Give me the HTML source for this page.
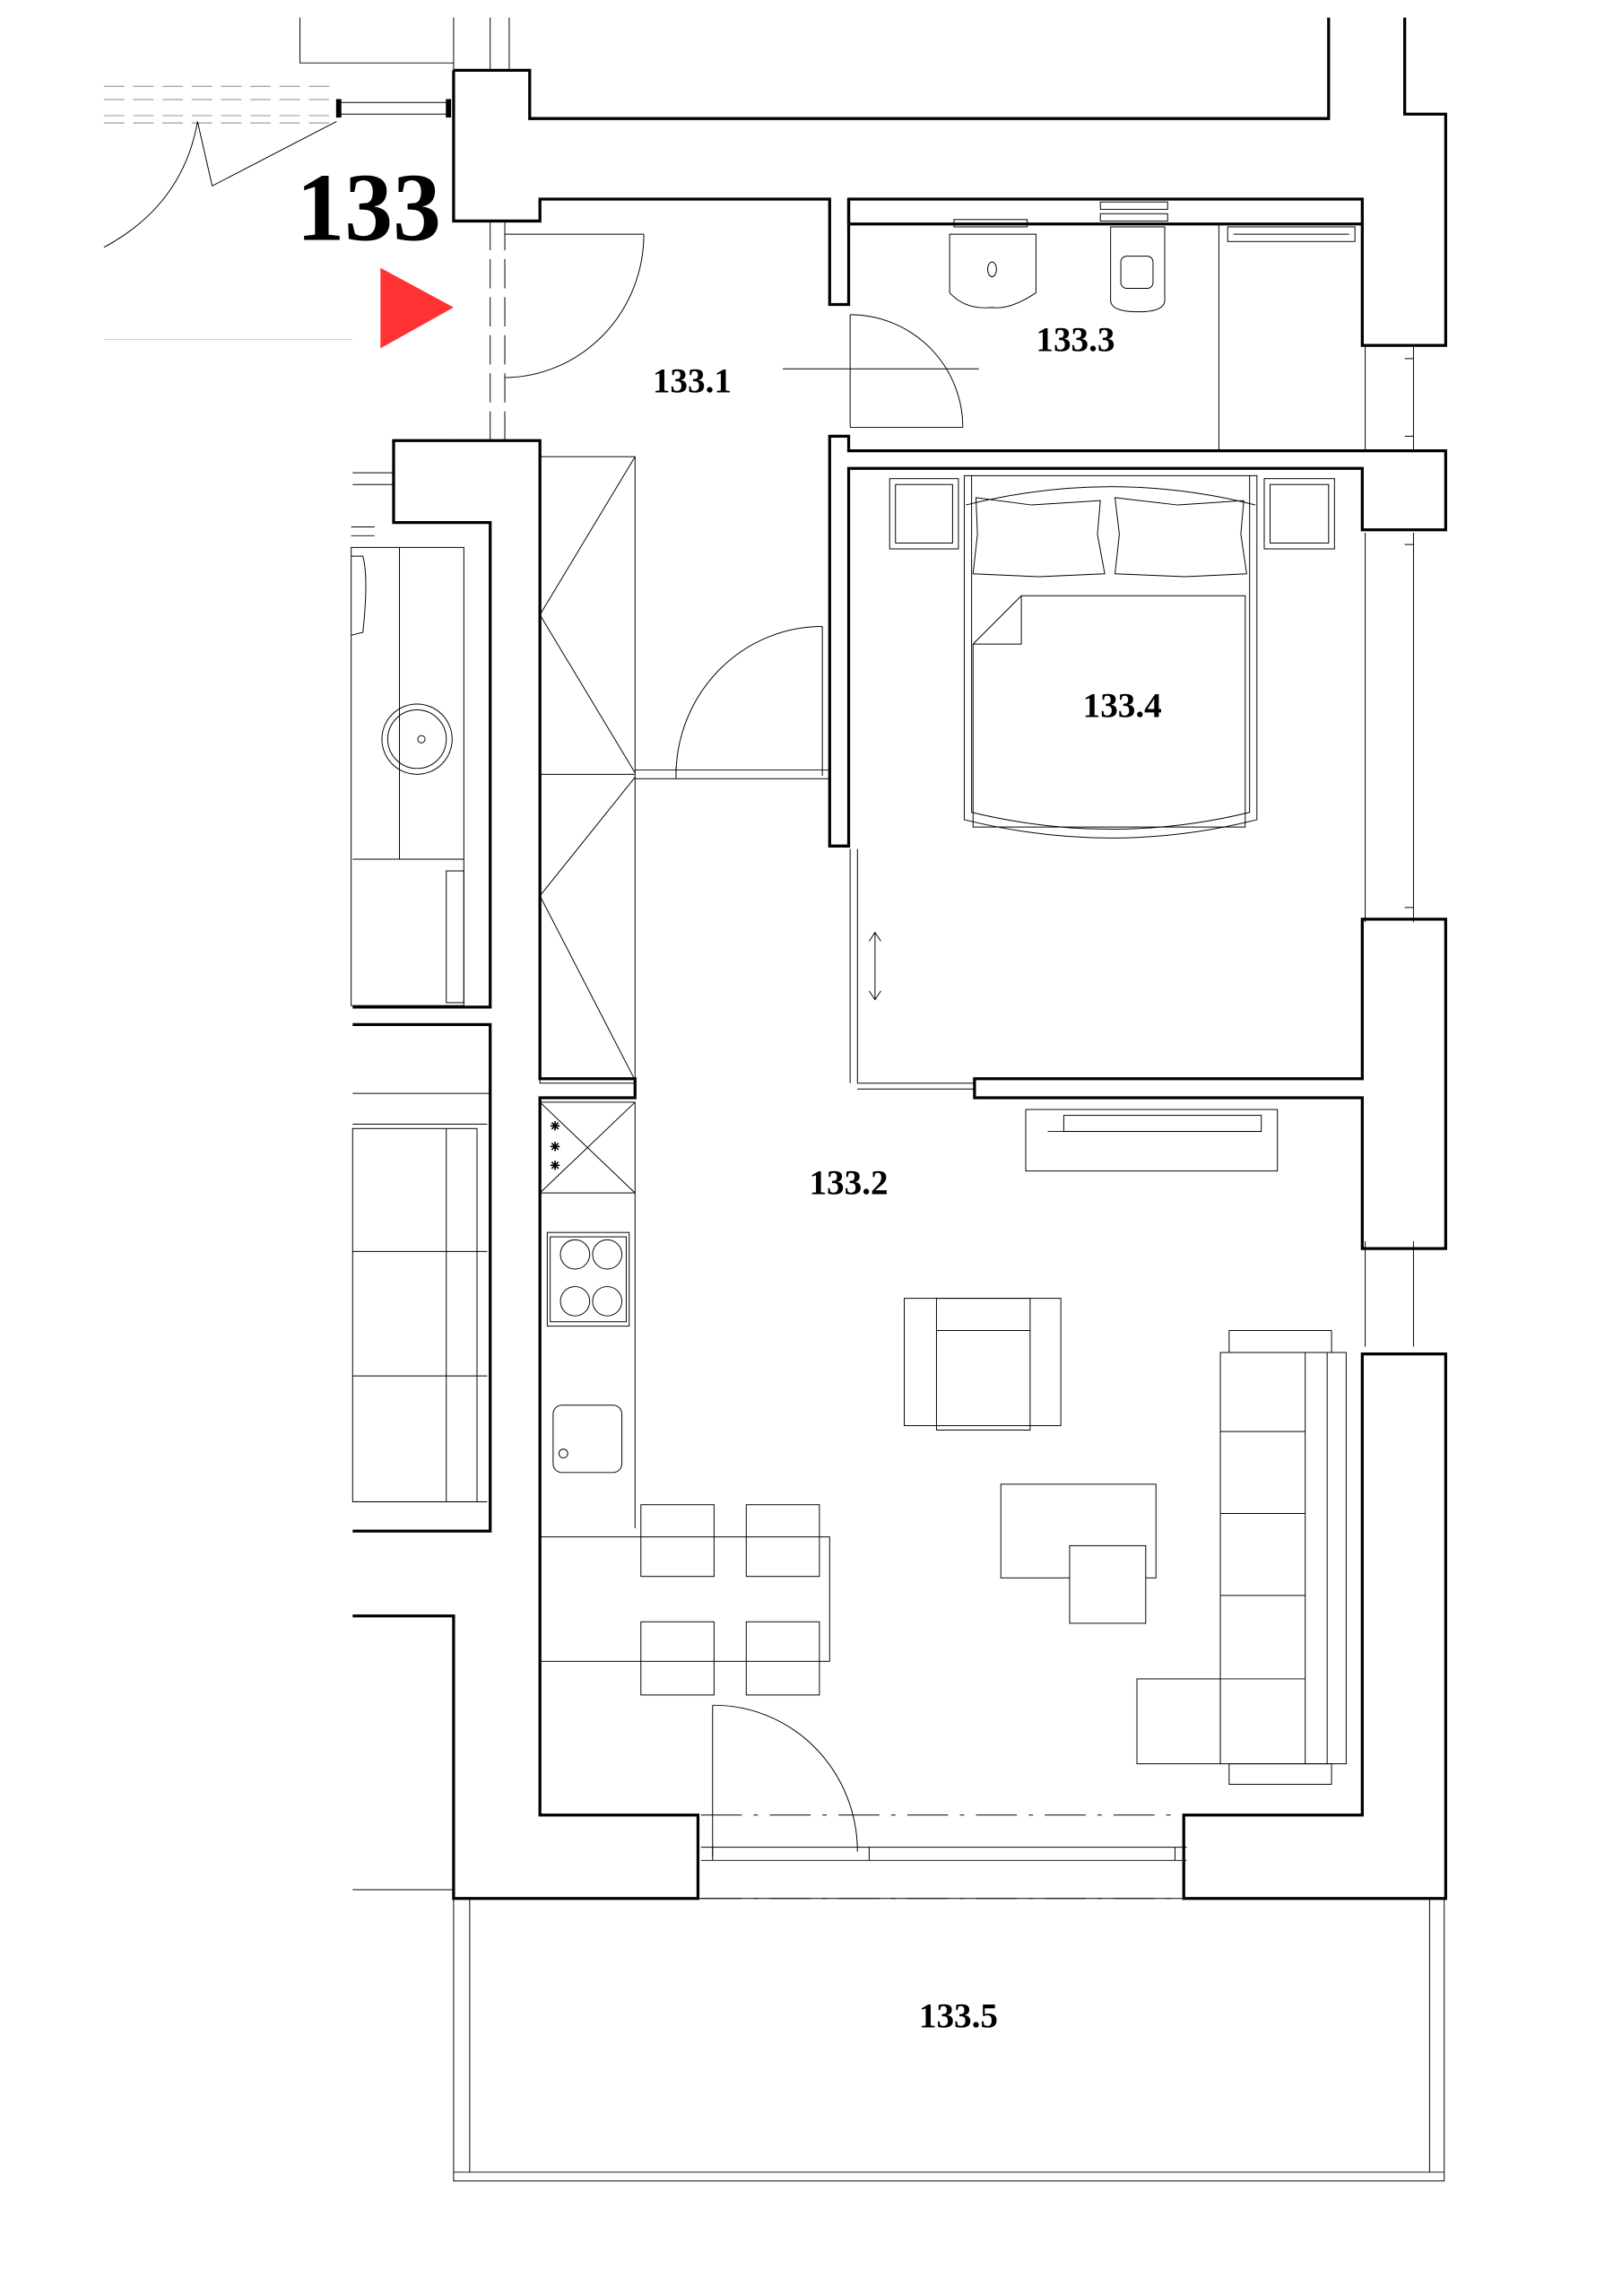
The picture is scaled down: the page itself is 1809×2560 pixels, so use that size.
<!DOCTYPE html>
<html><head><meta charset="utf-8"><style>
html,body{margin:0;padding:0;background:#fff;}
svg{display:block;}
text{font-family:"Liberation Serif",serif;font-weight:bold;fill:#000;}
</style></head><body>
<svg width="1809" height="2560" viewBox="0 0 1108.5 1568.6" preserveAspectRatio="none" xmlns="http://www.w3.org/2000/svg">
<rect width="1108.5" height="1568.6" fill="#fff"/>
<g fill="none" stroke="#000" stroke-width="0.6">
<line x1="71" y1="59" x2="231" y2="59" stroke-dasharray="14,6" stroke="#888"/>
<line x1="71" y1="68" x2="231" y2="68" stroke-dasharray="14,6" stroke="#888"/>
<line x1="71" y1="79" x2="231" y2="79" stroke-dasharray="14,6" stroke="#888"/>
<line x1="71" y1="84" x2="231" y2="84" stroke-dasharray="14,6" stroke="#888"/>
<line x1="233" y1="70" x2="307" y2="70"/><line x1="233" y1="78" x2="307" y2="78"/>
<rect x="230" y="68" width="3" height="12" fill="#000"/><rect x="305" y="68" width="3" height="12" fill="#000"/>
<path d="M205,12 L205,43 L310,43"/>
<path d="M135,83 Q125,140 71,169"/>
<path d="M135,83 L145,127 L230,83"/>
<line x1="310" y1="12" x2="310" y2="48"/><line x1="335" y1="12" x2="335" y2="48"/><line x1="348" y1="12" x2="348" y2="48"/>
<line x1="71" y1="232" x2="241" y2="232" stroke="#ccc"/>
<line x1="335" y1="151" x2="335" y2="300" stroke-dasharray="20,6"/>
<line x1="345" y1="151" x2="345" y2="300" stroke-dasharray="20,6"/>
<line x1="345" y1="160" x2="440" y2="160"/>
<path d="M440,160 A96,98 0 0 1 345,258"/>
<rect x="369" y="312" width="65" height="428"/>
<line x1="369" y1="529" x2="434" y2="529"/>
<path d="M434,312 L369,420 L434,528 M434,531 L369,612 L434,738"/>
<line x1="434" y1="526" x2="567" y2="526"/><line x1="434" y1="532" x2="567" y2="532"/>
<line x1="562" y1="428" x2="562" y2="530"/>
<path d="M562,428 A100,102 0 0 0 462,530"/>
<line x1="462" y1="524" x2="462" y2="532"/>
<line x1="581" y1="215" x2="581" y2="292"/>
<line x1="581" y1="292" x2="658" y2="292"/>
<path d="M581,215 A77,77 0 0 1 658,292"/>
<line x1="535" y1="252" x2="669" y2="252"/>
<line x1="833" y1="153" x2="833" y2="308"/>
<rect x="839" y="155" width="87" height="10"/><line x1="843" y1="160" x2="922" y2="160"/>
<rect x="652" y="150" width="50" height="5"/>
<path d="M649,160 L708,160 L708,200 Q690,212 678,210 Q660,212 649,200 Z"/>
<ellipse cx="678" cy="184" rx="3" ry="5"/>
<rect x="752" y="138" width="46" height="5"/><rect x="752" y="146" width="46" height="5"/>
<path d="M759,155 L796,155 L796,205 Q796,213 778,213 Q759,213 759,205 Z"/>
<rect x="766" y="175" width="22" height="22" rx="4"/>
<rect x="608" y="327" width="47" height="48"/><rect x="612" y="331" width="39" height="40"/>
<rect x="864" y="327" width="48" height="48"/><rect x="868" y="331" width="40" height="40"/>
<path d="M659,325 L859,325 L859,560 Q760,585 659,560 Z"/>
<path d="M664,325 L664,555 Q760,578 854,555 L854,325"/>
<path d="M660,345 Q760,320 858,345"/>
<path d="M667,340 L705,345 L752,342 L750,365 L755,392 L710,394 L665,392 L668,365 Z"/>
<path d="M762,340 L805,345 L850,342 L848,365 L852,392 L810,394 L762,392 L765,365 Z"/>
<path d="M665,440 L698,407 L851,407 L851,565 L665,565 Z"/>
<path d="M665,440 L698,440 L698,407"/>
<line x1="581" y1="580" x2="581" y2="740"/><line x1="586" y1="580" x2="586" y2="740"/>
<line x1="586" y1="740" x2="666" y2="740"/><line x1="586" y1="744" x2="666" y2="744"/>
<path d="M598,637 L598,683 M594,643 L598,637 L602,643 M594,677 L598,683 L602,677"/>
<line x1="966" y1="236" x2="966" y2="308"/><line x1="966" y1="364" x2="966" y2="630"/><line x1="966" y1="848" x2="966" y2="920"/>
<line x1="933" y1="236" x2="933" y2="308"/><line x1="933" y1="364" x2="933" y2="630"/><line x1="933" y1="848" x2="933" y2="920"/>
<line x1="960" y1="245" x2="966" y2="245"/><line x1="960" y1="298" x2="966" y2="298"/>
<line x1="960" y1="372" x2="966" y2="372"/><line x1="960" y1="620" x2="966" y2="620"/>
<rect x="701" y="758" width="172" height="42"/><rect x="727" y="762" width="135" height="11"/><line x1="716" y1="773" x2="862" y2="773"/>
<rect x="369" y="753" width="65" height="62"/><path d="M369,753 L434,815 M434,753 L369,815"/>
<text x="376" y="772" style="font-size:8px;font-weight:normal">✳</text>
<text x="376" y="786" style="font-size:8px;font-weight:normal">✳</text>
<text x="376" y="799" style="font-size:8px;font-weight:normal">✳</text>
<line x1="434" y1="815" x2="434" y2="1044"/>
<rect x="374" y="842" width="56" height="64"/><rect x="376" y="845" width="52" height="58"/>
<circle cx="393" cy="857" r="10"/><circle cx="415" cy="857" r="10"/><circle cx="393" cy="889" r="10"/><circle cx="415" cy="889" r="10"/>
<rect x="378" y="960" width="47" height="46" rx="6"/><circle cx="385" cy="993" r="3"/>
<rect x="369" y="1050" width="198" height="85"/>
<rect x="438" y="1028" width="50" height="49"/><rect x="510" y="1028" width="50" height="49"/>
<rect x="438" y="1108" width="50" height="50"/><rect x="510" y="1108" width="50" height="50"/>
<rect x="618" y="887" width="107" height="87"/><rect x="640" y="887" width="64" height="90"/><line x1="640" y1="909" x2="704" y2="909"/>
<rect x="684" y="1014" width="106" height="64"/><rect x="731" y="1056" width="52" height="53" fill="#fff"/>
<rect x="840" y="909" width="70" height="15"/><rect x="840" y="1205" width="70" height="14"/>
<rect x="834" y="924" width="86" height="281"/>
<line x1="892" y1="924" x2="892" y2="1205"/><line x1="907" y1="924" x2="907" y2="1205"/>
<line x1="834" y1="978" x2="892" y2="978"/><line x1="834" y1="1034" x2="892" y2="1034"/><line x1="834" y1="1090" x2="892" y2="1090"/><line x1="834" y1="1147" x2="892" y2="1147"/>
<rect x="777" y="1147" width="57" height="58"/>
<line x1="487" y1="1165" x2="487" y2="1268"/>
<path d="M487,1165 A98,100 0 0 1 586,1265"/>
<line x1="479" y1="1262" x2="811" y2="1262"/><line x1="479" y1="1271" x2="811" y2="1271"/>
<line x1="594" y1="1262" x2="594" y2="1271"/><line x1="487" y1="1262" x2="487" y2="1271"/><line x1="803" y1="1262" x2="803" y2="1271"/>
<line x1="479" y1="1240" x2="811" y2="1240" stroke-dasharray="28,8,3,8"/>
<line x1="479" y1="1297" x2="811" y2="1297" stroke-dasharray="28,8,3,8"/>
<rect x="310" y="1297" width="677" height="193"/>
<line x1="321" y1="1297" x2="321" y2="1484"/><line x1="977" y1="1297" x2="977" y2="1484"/>
<line x1="310" y1="1484" x2="987" y2="1484"/>
<line x1="241" y1="323" x2="269" y2="323"/><line x1="241" y1="331" x2="269" y2="331"/>
<rect x="240" y="374" width="77" height="313"/><line x1="273" y1="374" x2="273" y2="587"/>
<line x1="241" y1="587" x2="317" y2="587"/>
<rect x="305" y="595" width="12" height="90"/>
<path d="M240,380 L248,380 Q252,395 248,432 L240,434"/>
<line x1="240" y1="360" x2="256" y2="360"/><line x1="240" y1="366" x2="256" y2="366"/>
<circle cx="285" cy="505" r="24"/><circle cx="285" cy="505" r="20"/><circle cx="288" cy="505" r="2.5"/>
<line x1="241" y1="747" x2="335" y2="747"/><line x1="241" y1="768" x2="333" y2="768"/>
<rect x="241" y="771" width="85" height="255"/><line x1="241" y1="1026" x2="333" y2="1026"/><line x1="305" y1="771" x2="305" y2="1026"/>
<line x1="241" y1="855" x2="333" y2="855"/><line x1="241" y1="940" x2="333" y2="940"/>
<line x1="241" y1="1291" x2="310" y2="1291"/>
</g>
<g fill="none" stroke="#000" stroke-width="2" stroke-linejoin="miter">
<path d="M310,48 L362,48 L362,81 L908,81 L908,12"/>
<path d="M960,12 L960,78 L988,78 L988,236 L931,236 L931,136 L580,136 L580,153 L931,153"/>
<path d="M310,48 L310,151 L369,151 L369,136 L567,136 L567,208 L580,208 L580,136"/>
<path d="M567,298 L567,578 L580,578 L580,320 L931,320 L931,362 L988,362 L988,308 L580,308 L580,298 Z"/>
<path d="M310,301 L269,301 L269,357 L335,357 L335,688 L241,688"/>
<path d="M241,700 L335,700 L335,1046 L241,1046"/>
<path d="M310,301 L369,301 L369,737 L434,737 L434,750 L369,750 L369,1240 L477,1240 L477,1297 L310,1297 L310,1104 L241,1104"/>
<path d="M666,737 L931,737 L931,628 L988,628 L988,853 L931,853 L931,750 L666,750 Z"/>
<path d="M931,925 L988,925 L988,1297 L809,1297 L809,1240 L931,1240 Z"/>
</g>
<polygon points="260,183 310,210 260,238" fill="#ff3333"/>
<text x="252" y="164" text-anchor="middle" style="font-size:66px">133</text>
<text x="473" y="268" text-anchor="middle" style="font-size:24px">133.1</text>
<text x="580" y="816" text-anchor="middle" style="font-size:24px">133.2</text>
<text x="735" y="240" text-anchor="middle" style="font-size:24px">133.3</text>
<text x="767" y="490" text-anchor="middle" style="font-size:24px">133.4</text>
<text x="655" y="1385" text-anchor="middle" style="font-size:24px">133.5</text>
</svg>
</body></html>
